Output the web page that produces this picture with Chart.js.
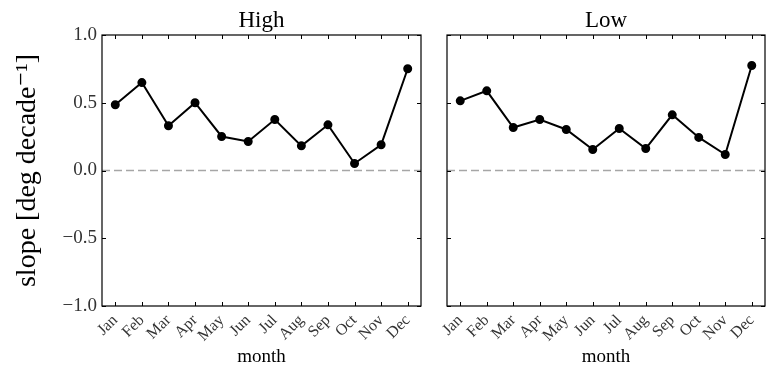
<!DOCTYPE html>
<html>
<head>
<meta charset="utf-8">
<script src="https://cdn.jsdelivr.net/npm/chart.js@4"></script>
<style>
html, body { margin: 0; padding: 0; background: #fff; }
#wrap { position: relative; width: 776px; height: 378px; }
canvas { position: absolute; top: 0; }
#c1 { left: 0; }
#c2 { left: 430px; }
</style>
</head>
<body>
<div id="wrap">
  <canvas id="c1" width="430" height="378"></canvas>
  <canvas id="c2" width="346" height="378"></canvas>
</div>
<script>
const months = ['Jan', 'Feb', 'Mar', 'Apr', 'May', 'Jun', 'Jul', 'Aug', 'Sep', 'Oct', 'Nov', 'Dec'];
const highSlope = [0.485, 0.649, 0.330, 0.500, 0.251, 0.214, 0.376, 0.182, 0.337, 0.052, 0.190, 0.751];
const lowSlope = [0.514, 0.588, 0.317, 0.376, 0.303, 0.155, 0.310, 0.162, 0.411, 0.244, 0.118, 0.775];
const yTicks = [-1.0, -0.5, 0.0, 0.5, 1.0];

const serif = "'Liberation Serif', 'DejaVu Serif', serif";
Chart.defaults.font.family = serif;

// box round the plot, inward ticks on all sides, dashed zero line
const frame = {
    id: 'frame',
    beforeDatasetsDraw(chart) {
        const {ctx, chartArea: a, scales: {y}} = chart;
        const y0 = y.getPixelForValue(0);
        ctx.save();
        ctx.strokeStyle = '#a6a6a6';
        ctx.lineWidth = 1.5;
        ctx.setLineDash([8, 4]);
        ctx.beginPath();
        ctx.moveTo(a.left, y0);
        ctx.lineTo(a.right, y0);
        ctx.stroke();
        ctx.restore();
    },
    afterDraw(chart) {
        const {ctx, chartArea: a, scales: {x, y}} = chart;
        ctx.save();
        ctx.strokeStyle = '#000';
        ctx.lineWidth = 1.2;
        ctx.strokeRect(a.left, a.top, a.width, a.height);
        ctx.beginPath();
        x.ticks.forEach((t, i) => {
            const px = Math.round(x.getPixelForTick(i)) + 0.5;
            ctx.moveTo(px, a.bottom); ctx.lineTo(px, a.bottom - 4);
            ctx.moveTo(px, a.top); ctx.lineTo(px, a.top + 4);
        });
        y.ticks.forEach((t, i) => {
            const py = Math.round(y.getPixelForTick(i)) + 0.5;
            ctx.moveTo(a.left, py); ctx.lineTo(a.left + 4, py);
            ctx.moveTo(a.right, py); ctx.lineTo(a.right - 4, py);
        });
        ctx.lineWidth = 1;
        ctx.stroke();
        ctx.restore();
    }
};

const makePanel = (canvas, title, values, showY, pad) => {
    return new Chart(canvas, {
        type: 'line',
        data: {
            labels: months,
            datasets: [{
                data: values,
                borderColor: '#000',
                backgroundColor: '#000',
                borderWidth: 2,
                pointRadius: 3.5,
                pointHoverRadius: 3.5,
                pointBackgroundColor: '#000',
                tension: 0
            }]
        },
        options: {
            responsive: false,
            animation: false,
            layout: {padding: pad},
            plugins: {legend: {display: false}, tooltip: {enabled: false}},
            scales: {
                x: {
                    type: 'category',
                    offset: true,
                    grid: {display: false, drawTicks: false},
                    border: {display: false},
                    ticks: {
                        autoSkip: false, minRotation: 45, maxRotation: 45,
                        padding: 5, color: '#333',
                        font: {family: serif, size: 16}
                    },
                    title: {
                        display: true, text: 'month', color: '#000',
                        font: {family: serif, size: 19},
                        padding: {top: 0, bottom: 10}
                    },
                    afterFit(s) { s.height = 72; s.paddingLeft = 0; s.paddingRight = 0; }
                },
                top: {
                    type: 'category',
                    position: 'top',
                    grid: {display: false, drawTicks: false},
                    border: {display: false},
                    ticks: {display: false},
                    title: {
                        display: true, text: title, color: '#000',
                        font: {family: serif, size: 23},
                        padding: {top: 7, bottom: 0}
                    },
                    afterFit(s) { s.height = 35; s.paddingLeft = 0; s.paddingRight = 0; }
                },
                y: {
                    display: showY,
                    min: -1, max: 1,
                    afterBuildTicks(s) { s.ticks = yTicks.map(v => ({value: v})); },
                    grid: {display: false, drawTicks: false},
                    border: {display: false},
                    ticks: {
                        padding: 5, color: '#333',
                        font: {family: serif, size: 19},
                        callback: v => v.toFixed(1).replace('-', '\u2212')
                    },
                    title: {
                        display: true, text: 'slope [deg decade\u207B\u00B9]', color: '#000',
                        font: {family: serif, size: 28},
                        padding: {top: 11, bottom: 0}
                    },
                    afterFit(s) { s.width = showY ? 102 : 0; s.paddingTop = 0; s.paddingBottom = 0; }
                }
            }
        },
        plugins: [frame]
    });
};

makePanel(document.getElementById('c1'), 'High', highSlope, true, {left: 0, right: 9, top: 0, bottom: 0});
makePanel(document.getElementById('c2'), 'Low', lowSlope, false, {left: 17, right: 11, top: 0, bottom: 0});
</script>
</body>
</html>
